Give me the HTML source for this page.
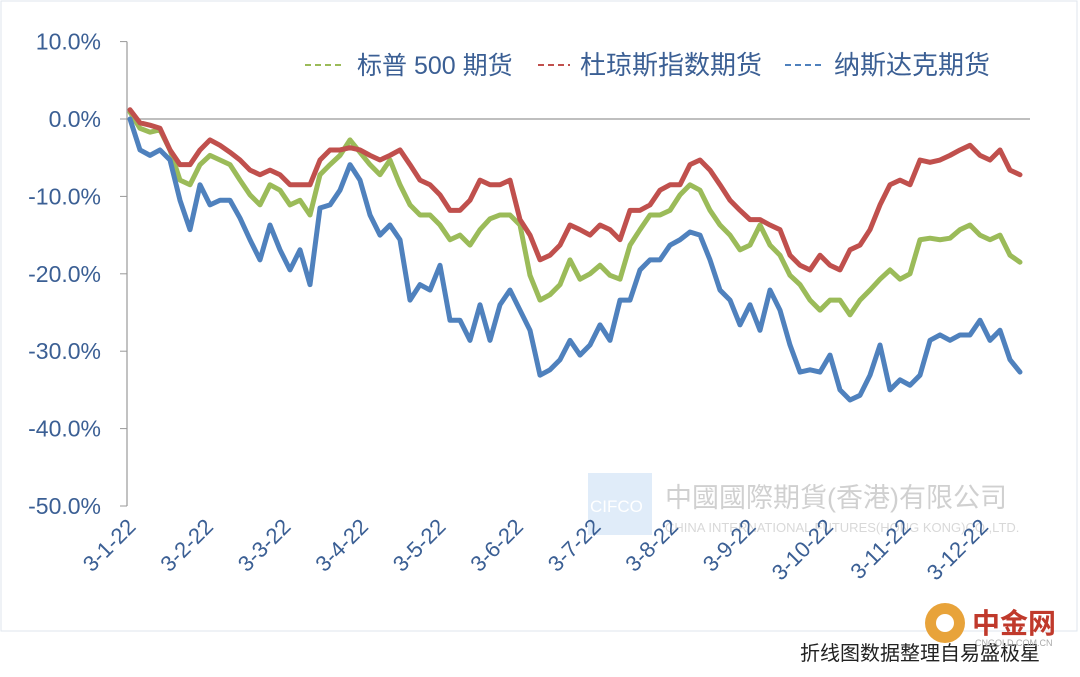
<!DOCTYPE html>
<html><head><meta charset="utf-8"><style>
body{margin:0;background:#fff;width:1080px;height:672px;overflow:hidden;font-family:"Liberation Sans","Noto Sans CJK SC",sans-serif;}
svg text{font-family:"Liberation Sans","Noto Sans CJK SC",sans-serif;}
</style></head><body>
<svg id="chart" width="1080" height="672" xmlns="http://www.w3.org/2000/svg">
<rect x="0" y="0" width="1080" height="672" fill="#fff"/>
<rect x="1" y="1" width="1076" height="630" fill="none" stroke="#dfe6ee" stroke-width="1"/>
<g opacity="0.45">
<rect x="588" y="473" width="64" height="62" fill="#bcd6f2"/>
<text x="590" y="512" font-size="17" fill="#fff" font-family="Liberation Serif,serif">CIFCO</text>
<text x="665" y="507" font-size="27" fill="#999">中國國際期貨(香港)有限公司</text>
<text x="665" y="532" font-size="13" fill="#aaa">CHINA INTERNATIONAL FUTURES(HONG KONG)CO.,LTD.</text>
</g>
<g id="axes"></g>
<g id="series"></g>
<g id="legend">
<line x1="305" y1="65" x2="345" y2="65" stroke="#9bbb59" stroke-width="2" stroke-dasharray="6,4"/>
<text x="357" y="74" font-size="25" fill="#3b5f94">标普 500 期货</text>
<line x1="538" y1="65" x2="570" y2="65" stroke="#c0504d" stroke-width="2" stroke-dasharray="6,4"/>
<text x="580" y="74" font-size="26" fill="#3b5f94">杜琼斯指数期货</text>
<line x1="785" y1="65" x2="822" y2="65" stroke="#4f81bd" stroke-width="2" stroke-dasharray="6,4"/>
<text x="834" y="74" font-size="26" fill="#3b5f94">纳斯达克期货</text>
</g>
<text x="1040" y="660" font-size="20" fill="#222" text-anchor="end">折线图数据整理自易盛极星</text>
<g>
<circle cx="945" cy="623" r="20" fill="#e8a33a"/>
<circle cx="945" cy="623" r="9" fill="#fff"/>
<text x="972" y="633" font-size="28" fill="#c0392b" font-weight="bold">中金网</text>
<text x="975" y="646" font-size="9" fill="#aaa">CNGOLD.COM.CN</text>
</g>
</svg>
<script>
const yTicks=[10,0,-10,-20,-30,-40,-50];
const xLabels=["3-1-22","3-2-22","3-3-22","3-4-22","3-5-22","3-6-22","3-7-22","3-8-22","3-9-22","3-10-22","3-11-22","3-12-22"];
const nasdaq=[0.0,-4.0,-4.7,-4.0,-5.3,-10.5,-14.3,-8.5,-11.1,-10.5,-10.5,-12.8,-15.6,-18.2,-13.7,-16.9,-19.5,-16.9,-21.4,-11.5,-11.1,-9.2,-5.9,-7.9,-12.4,-15.0,-13.7,-15.6,-23.4,-21.4,-22.1,-18.9,-26.0,-26.0,-28.6,-24.0,-28.6,-24.0,-22.1,-24.7,-27.3,-33.1,-32.4,-31.1,-28.6,-30.5,-29.2,-26.6,-28.6,-23.4,-23.4,-19.5,-18.2,-18.2,-16.3,-15.6,-14.6,-15.0,-18.2,-22.1,-23.4,-26.6,-24.0,-27.3,-22.1,-24.7,-29.2,-32.7,-32.4,-32.7,-30.5,-35.0,-36.3,-35.7,-33.1,-29.2,-35.0,-33.7,-34.4,-33.1,-28.6,-27.9,-28.6,-27.9,-27.9,-26.0,-28.6,-27.3,-31.1,-32.7];
const sp500=[0.9,-1.2,-1.7,-1.4,-4.0,-7.9,-8.5,-5.9,-4.7,-5.3,-5.9,-7.9,-9.8,-11.1,-8.5,-9.2,-11.1,-10.5,-12.4,-7.2,-5.9,-4.7,-2.7,-4.3,-5.9,-7.2,-5.3,-8.5,-11.1,-12.4,-12.4,-13.7,-15.6,-15.0,-16.3,-14.3,-12.9,-12.4,-12.4,-13.7,-20.2,-23.4,-22.7,-21.4,-18.2,-20.7,-20.0,-18.9,-20.2,-20.7,-16.3,-14.3,-12.4,-12.4,-11.8,-9.8,-8.5,-9.2,-11.8,-13.7,-15.0,-16.9,-16.3,-13.7,-16.3,-17.6,-20.2,-21.4,-23.4,-24.7,-23.4,-23.4,-25.3,-23.4,-22.1,-20.7,-19.5,-20.7,-20.0,-15.6,-15.4,-15.6,-15.4,-14.3,-13.7,-15.0,-15.6,-15.0,-17.6,-18.5];
const dow=[1.2,-0.5,-0.8,-1.2,-4.0,-5.9,-5.9,-4.0,-2.7,-3.4,-4.3,-5.3,-6.6,-7.2,-6.6,-7.2,-8.5,-8.5,-8.5,-5.3,-4.0,-4.0,-3.7,-4.0,-4.7,-5.3,-4.7,-4.0,-5.9,-7.9,-8.5,-9.8,-11.8,-11.8,-10.5,-7.9,-8.5,-8.5,-7.9,-13.0,-15.0,-18.2,-17.6,-16.3,-13.7,-14.3,-15.0,-13.7,-14.3,-15.6,-11.8,-11.8,-11.1,-9.2,-8.5,-8.5,-5.9,-5.3,-6.6,-8.5,-10.5,-11.8,-13.0,-13.0,-13.7,-14.3,-17.6,-18.9,-19.5,-17.6,-18.9,-19.5,-16.9,-16.3,-14.3,-11.1,-8.5,-7.9,-8.5,-5.3,-5.6,-5.3,-4.7,-4.0,-3.4,-4.7,-5.3,-4.0,-6.6,-7.2];
const NS="http://www.w3.org/2000/svg";
const X0=130,X1=1020,n=nasdaq.length;
function xScale(i){return X0+(X1-X0)*i/(n-1);}
function yScale(v){return 119-v*7.74;}
function mk(t,a,p){const e=document.createElementNS(NS,t);for(const k in a)e.setAttribute(k,a[k]);p.appendChild(e);return e;}
const axes=document.getElementById('axes');
const yl=mk('line',{x1:127,y1:yScale(10),x2:127,y2:yScale(-50),stroke:'#999','stroke-width':1.2},axes);


const zl=mk('line',{x1:127,y1:yScale(0),x2:1030,y2:yScale(0),stroke:'#999','stroke-width':1.2},axes);


yTicks.forEach(v=>{
 mk('line',{x1:120,y1:yScale(v),x2:127,y2:yScale(v),stroke:'#999','stroke-width':1},axes);
 const t=mk('text',{x:101,y:yScale(v)+8,'font-size':23,fill:'#3b5f94','text-anchor':'end'},axes);
 t.textContent=v.toFixed(1)+'%';
 
 
});
xLabels.forEach((s,k)=>{
 const x=137+77.5*k,y=528;
 const t=mk('text',{x:x,y:y,'font-size':22,fill:'#3b5f94','text-anchor':'end',transform:`rotate(-45 ${x} ${y})`},axes);
 t.textContent=s;
 
 
});
const sg=document.getElementById('series');
[[sp500,'#9bbb59','series-sp500'],[dow,'#c0504d','series-dow'],[nasdaq,'#4f81bd','series-nasdaq']].forEach(([d,c,nm])=>{
 const p=mk('polyline',{points:d.map((v,i)=>xScale(i)+','+yScale(v)).join(' '),fill:'none',stroke:c,'stroke-width':5,'stroke-linejoin':'round','stroke-linecap':'round'},sg);
 
 
});
</script>
</body></html>
